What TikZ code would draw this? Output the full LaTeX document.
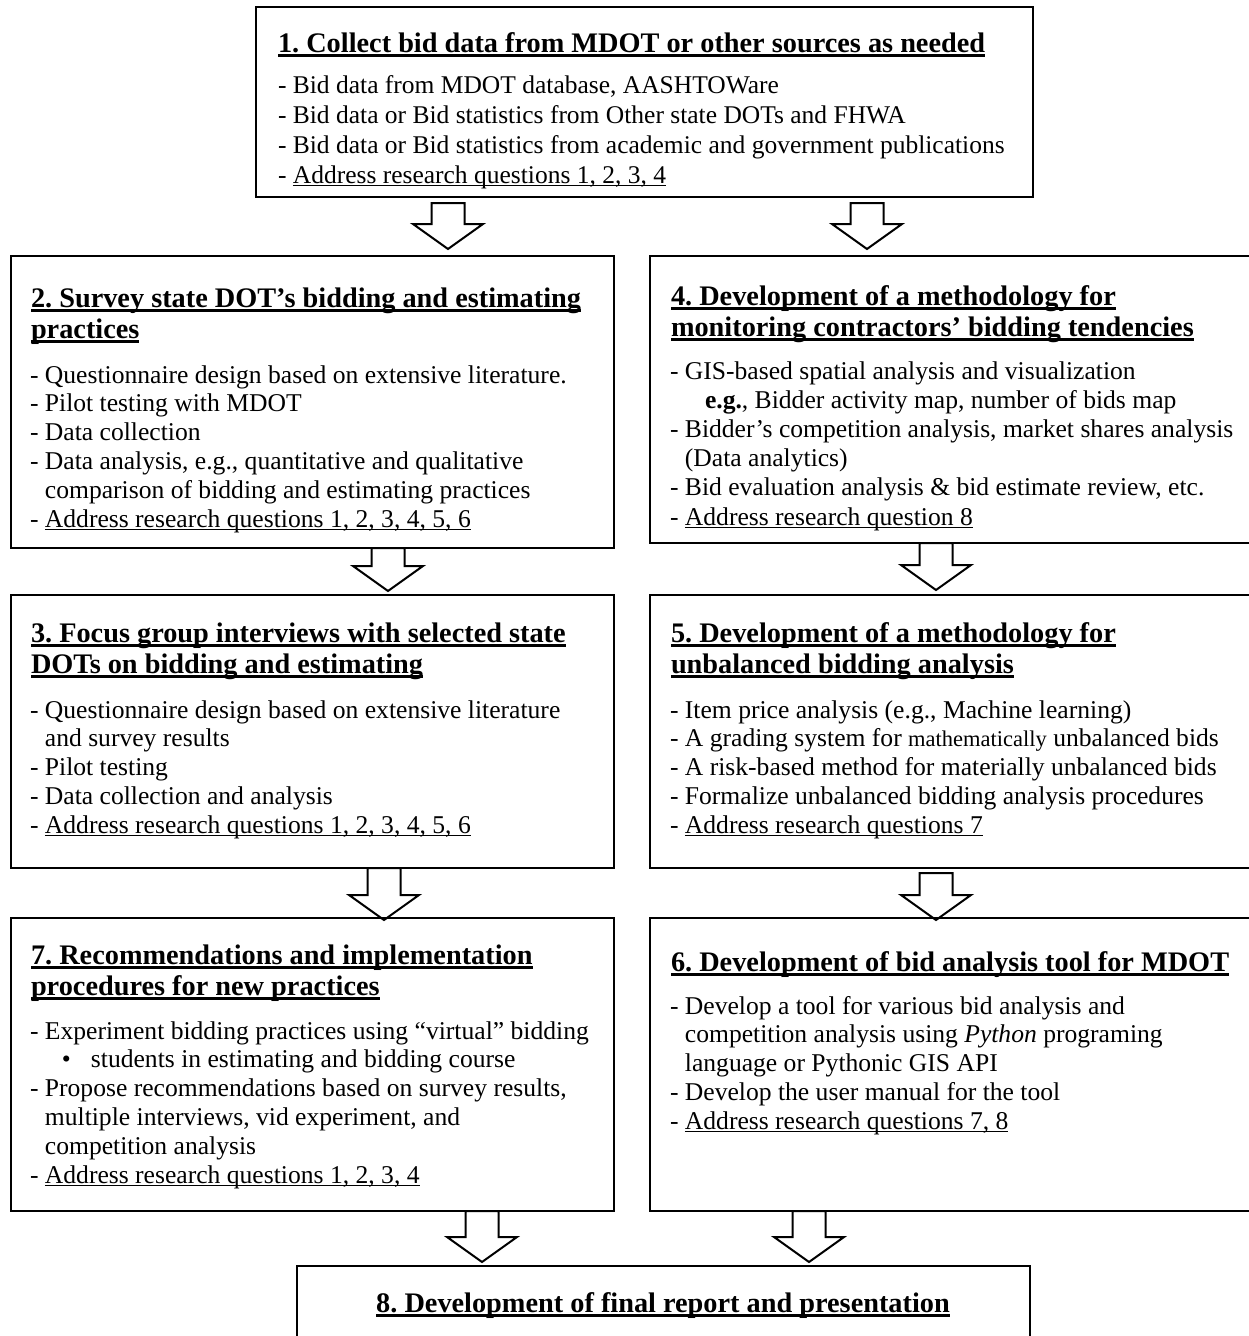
\documentclass[tikz,border=0pt]{standalone}
\usepackage{fontspec}
\setmainfont{Liberation Serif}
\usetikzlibrary{calc}
\frenchspacing
\newcommand\ulbody[1]{\setbox0=\hbox{#1}\rlap{\rule[-3.2pt]{\wd0}{1.4pt}}\box0}
\newcommand\ultitle[1]{\setbox0=\hbox{#1}\rlap{\rule[-4.5pt]{\wd0}{2.4pt}}\box0}
\newcommand\blines[3]{\vtop{\fontsize{#1}{#2}\selectfont\baselineskip=#2pt\lineskiplimit=-30pt\lineskip=0pt #3}}
\newcommand\tlines[1]{\vtop{\fontsize{28.3}{31}\selectfont\bfseries\baselineskip=31pt\lineskiplimit=-30pt\lineskip=0pt #1}}
\newcommand\li[1]{\hbox{#1}}
\newcommand\cont{\hphantom{- }}
\newcommand\barrow[2]{\draw[blockarrow] let \p1=(#1), \p2=(#2) in
  (\x1-16.5pt,\y1) -- (\x1+16.5pt,\y1) -- (\x1+16.5pt,\y2+25pt) -- (\x1+35pt,\y2+25pt)
  -- (\x2,\y2) -- (\x1-35pt,\y2+25pt) -- (\x1-16.5pt,\y2+25pt) -- cycle;}
\tikzset{
  box/.style={draw, line width=2pt, inner sep=0pt, outer sep=0pt, anchor=north west},
  txt/.style={inner sep=0pt, outer sep=0pt, anchor=base west},
  blockarrow/.style={draw, line width=2pt, line join=miter}
}
\begin{document}
\begin{tikzpicture}[x=1pt,y=-1pt]
\useasboundingbox (0,0) rectangle (1248,1336);
\fill[white] (0,0) rectangle (1248,1336);
% boxes
\node[box, minimum width=777pt, minimum height=190pt] (b1) at (256,7) {};
\node[box, minimum width=603pt, minimum height=292pt] (b2) at (11,256) {};
\node[box, minimum width=602pt, minimum height=287pt] (b4) at (650,256) {};
\node[box, minimum width=603pt, minimum height=273pt] (b3) at (11,595) {};
\node[box, minimum width=602pt, minimum height=273pt] (b5) at (650,595) {};
\node[box, minimum width=603pt, minimum height=293pt] (b7) at (11,918) {};
\node[box, minimum width=602pt, minimum height=293pt] (b6) at (650,918) {};
\node[box, minimum width=733pt, minimum height=90pt] (b8) at (297,1266) {};
% box 1
\node[txt] (t1) at (278,52) {\tlines{\li{\ultitle{1. Collect bid data from MDOT or other sources as needed}}}};
\node[txt] (x1) at (278,93) {\blines{25.5}{30}{%
\li{- Bid data from MDOT database, AASHTOWare}
\li{- Bid data or Bid statistics from Other state DOTs and FHWA}
\li{- Bid data or Bid statistics from academic and government publications}
\li{- \ulbody{Address research questions 1, 2, 3, 4}}}};
% box 2
\node[txt] (t2) at (31,307) {\tlines{\li{\ultitle{2. Survey state DOT’s bidding and estimating}}\li{\ultitle{practices}}}};
\node[txt] (x2) at (30,383) {\blines{25.6}{28.8}{%
\li{- Questionnaire design based on extensive literature.}
\li{- Pilot testing with MDOT}
\li{- Data collection}
\li{- Data analysis, e.g., quantitative and qualitative}
\li{\cont comparison of bidding and estimating practices}
\li{- \ulbody{Address research questions 1, 2, 3, 4, 5, 6}}}};
% box 4
\node[txt] (t4) at (671,305) {\tlines{\li{\ultitle{4. Development of a methodology for}}\li{\ultitle{monitoring contractors’ bidding tendencies}}}};
\node[txt] (x4) at (670,379) {\blines{25.6}{29.2}{%
\li{- GIS-based spatial analysis and visualization}
\li{\hspace*{35pt}\textbf{e.g.}, Bidder activity map, number of bids map}
\li{- Bidder’s competition analysis, market shares analysis}
\li{\cont (Data analytics)}
\li{- Bid evaluation analysis \& bid estimate review, etc.}
\li{- \ulbody{Address research question 8}}}};
% box 3
\node[txt] (t3) at (31,642) {\tlines{\li{\ultitle{3. Focus group interviews with selected state}}\li{\ultitle{DOTs on bidding and estimating}}}};
\node[txt] (x3) at (30,718) {\blines{25.6}{28.8}{%
\li{- Questionnaire design based on extensive literature}
\li{\cont and survey results}
\li{- Pilot testing}
\li{- Data collection and analysis}
\li{- \ulbody{Address research questions 1, 2, 3, 4, 5, 6}}}};
% box 5
\node[txt] (t5) at (671,642) {\tlines{\li{\ultitle{5. Development of a methodology for}}\li{\ultitle{unbalanced bidding analysis}}}};
\node[txt] (x5) at (670,718) {\blines{25.6}{28.8}{%
\li{- Item price analysis (e.g., Machine learning)}
\li{- A grading system for {\fontsize{22.5}{25}\selectfont mathematically} unbalanced bids}
\li{- A risk-based method for materially unbalanced bids}
\li{- Formalize unbalanced bidding analysis procedures}
\li{- \ulbody{Address research questions 7}}}};
% box 7
\node[txt] (t7) at (31,964) {\tlines{\li{\ultitle{7. Recommendations and implementation}}\li{\ultitle{procedures for new practices}}}};
\node[txt] (x7) at (30,1039) {\blines{25.6}{28.8}{%
\li{- Experiment bidding practices using “virtual” bidding}
\li{\hspace*{32pt}•\hspace{20pt}students in estimating and bidding course}
\li{- Propose recommendations based on survey results,}
\li{\cont multiple interviews, vid experiment, and}
\li{\cont competition analysis}
\li{- \ulbody{Address research questions 1, 2, 3, 4}}}};
% box 6
\node[txt] (t6) at (671,971) {\tlines{\li{\ultitle{6. Development of bid analysis tool for MDOT}}}};
\node[txt] (x6) at (670,1014) {\blines{25.6}{28.8}{%
\li{- Develop a tool for various bid analysis and}
\li{\cont competition analysis using \textit{Python} programing}
\li{\cont language or Pythonic GIS API}
\li{- Develop the user manual for the tool}
\li{- \ulbody{Address research questions 7, 8}}}};
% box 8
\node[inner sep=0pt, outer sep=0pt, anchor=base] (t8) at (663,1312) {\tlines{\li{\ultitle{8. Development of final report and presentation}}}};
% arrow end points
\coordinate (a1s) at (448,203);  \coordinate (a1t) at (448,249);
\coordinate (a2s) at (867,203);  \coordinate (a2t) at (867,249);
\coordinate (a3s) at (388,548);  \coordinate (a3t) at (388,591);
\coordinate (a4s) at (936,543);  \coordinate (a4t) at (936,590);
\coordinate (a5s) at (384,868);  \coordinate (a5t) at (384,920);
\coordinate (a6s) at (936,873);  \coordinate (a6t) at (936,920);
\coordinate (a7s) at (482,1211); \coordinate (a7t) at (482,1262);
\coordinate (a8s) at (809,1211); \coordinate (a8t) at (809,1262);
\barrow{a1s}{a1t}
\barrow{a2s}{a2t}
\barrow{a3s}{a3t}
\barrow{a4s}{a4t}
\barrow{a5s}{a5t}
\barrow{a6s}{a6t}
\barrow{a7s}{a7t}
\barrow{a8s}{a8t}
\end{tikzpicture}
\end{document}
